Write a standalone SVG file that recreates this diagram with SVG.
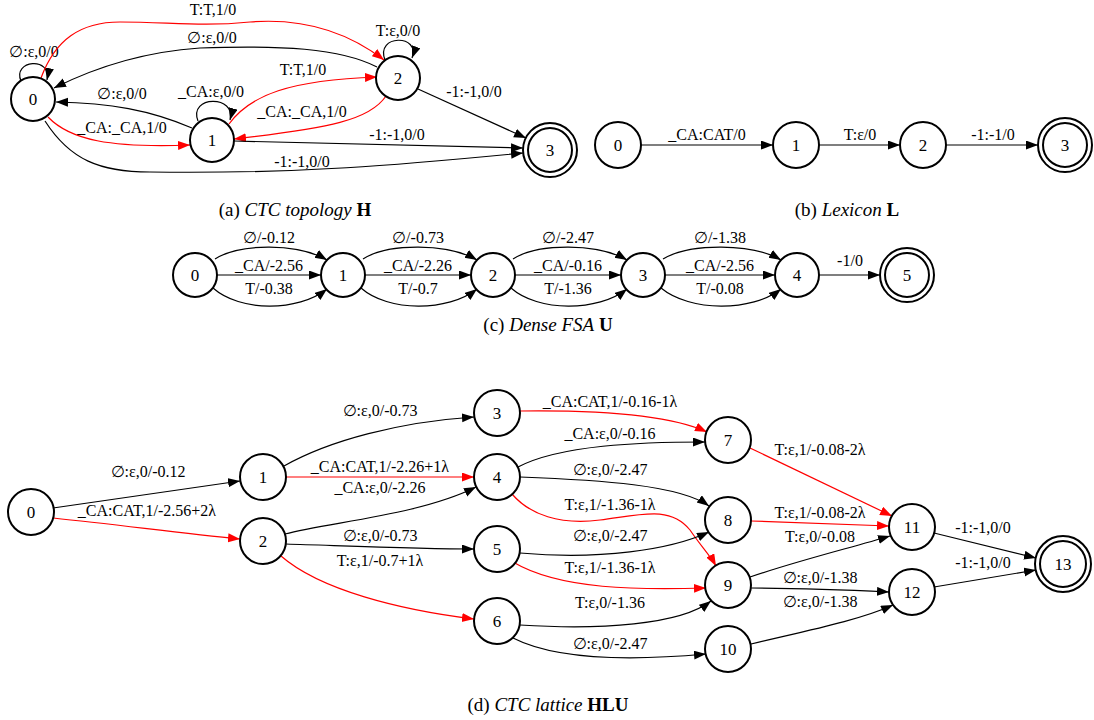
<svg xmlns="http://www.w3.org/2000/svg" width="1094" height="720" viewBox="0 0 1094 720">
<style>
text{font-family:"Liberation Serif","DejaVu Serif",serif;fill:#000}
.l{font-size:16px;text-anchor:middle}
.n{font-size:17px;text-anchor:middle;dominant-baseline:central}
.cap{font-size:19px;text-anchor:middle}
.i{font-style:italic}
.b{font-weight:bold}
circle{fill:#fff;stroke:#000;stroke-width:2}
.e{fill:none;stroke:#000;stroke-width:1.2;marker-end:url(#ak)}
.r{fill:none;stroke:#f00;stroke-width:1.2;marker-end:url(#ar)}
</style>
<defs>
<marker id="ak" markerUnits="userSpaceOnUse" markerWidth="13" markerHeight="10" refX="12" refY="4.5" orient="auto"><path d="M0,0 L12,4.5 L0,9 z" fill="#000"/></marker>
<marker id="ar" markerUnits="userSpaceOnUse" markerWidth="13" markerHeight="10" refX="12" refY="4.5" orient="auto"><path d="M0,0 L12,4.5 L0,9 z" fill="#f00"/></marker>
</defs>
<rect width="1094" height="720" fill="#fff"/>

<!-- Panel (a) -->
<g id="edges-a">
<path class="e" d="M 21,81 C 12,60 52,56 47,80"/>
<text class="l" x="34" y="57">∅:ε,0/0</text>
<path class="r" d="M 41,78 C 55,40 80,22 120,22 C 170,22 200,27 250,22 C 300,18 345,30 384,60"/>
<text class="l" x="213" y="15">T:T,1/0</text>
<path class="e" d="M 377,67 C 340,48 280,45 200,48 C 140,52 90,70 54,88"/>
<text class="l" x="212" y="43">∅:ε,0/0</text>
<path class="e" d="M 385,60 C 375,34 421,34 412,58"/>
<text class="l" x="398" y="36">T:ε,0/0</text>
<path class="r" d="M 229,124 C 250,95 290,80 377,77"/>
<text class="l" x="303" y="75">T:T,1/0</text>
<path class="r" d="M 386,96 C 370,120 330,128 234,139"/>
<text class="l" x="302" y="117">_CA:_CA,1/0</text>
<path class="e" d="M 198,121 C 188,95 237,95 230,120"/>
<text class="l" x="211" y="97">_CA:ε,0/0</text>
<path class="e" d="M 192,128 C 150,110 110,103 56,102"/>
<text class="l" x="122" y="99">∅:ε,0/0</text>
<path class="r" d="M 48,117 C 70,140 110,148 190,145"/>
<text class="l" x="122" y="133">_CA:_CA,1/0</text>
<path class="e" d="M 45,121 C 70,160 100,172 150,172 C 300,174 400,165 523,153"/>
<text class="l" x="302" y="167">-1:-1,0/0</text>
<path class="e" d="M 234,141 L 523,148"/>
<text class="l" x="397" y="140">-1:-1,0/0</text>
<path class="e" d="M 418,89 L 526,138"/>
<text class="l" x="474" y="97">-1:-1,0/0</text>
</g>
<g id="a0"><circle cx="33" cy="99" r="22"/><text class="n" x="33" y="99">0</text></g>
<g id="a1"><circle cx="212" cy="140" r="22"/><text class="n" x="212" y="140">1</text></g>
<g id="a2"><circle cx="398" cy="78" r="22"/><text class="n" x="398" y="78">2</text></g>
<g id="a3"><circle cx="550" cy="150" r="27"/><circle cx="550" cy="150" r="22"/><text class="n" x="550" y="150">3</text></g>
<text class="cap" x="295" y="216">(a) <tspan class="i">CTC topology</tspan> <tspan class="b">H</tspan></text>

<!-- Panel (b) -->
<g id="edges-b">
<path class="e" d="M 641,145 L 773,145"/>
<text class="l" x="707" y="140">_CA:CAT/0</text>
<path class="e" d="M 819,145 L 900,145"/>
<text class="l" x="860" y="140">T:ε/0</text>
<path class="e" d="M 946,145 L 1038,145"/>
<text class="l" x="993" y="140">-1:-1/0</text>
</g>
<g id="b0"><circle cx="618" cy="145" r="23"/><text class="n" x="618" y="145">0</text></g>
<g id="b1"><circle cx="796" cy="145" r="23"/><text class="n" x="796" y="145">1</text></g>
<g id="b2"><circle cx="923" cy="145" r="23"/><text class="n" x="923" y="145">2</text></g>
<g id="b3"><circle cx="1065" cy="145" r="27"/><circle cx="1065" cy="145" r="22"/><text class="n" x="1065" y="145">3</text></g>
<text class="cap" x="847" y="216">(b) <tspan class="i">Lexicon</tspan> <tspan class="b">L</tspan></text>

<!-- Panel (c) -->
<g id="edges-c">
<path class="e" d="M 215,259 C 240,243 298,243 327,260"/>
<path class="e" d="M 217,275 L 321,275"/>
<path class="e" d="M 213,288 C 240,312 298,312 327,289"/>
<text class="l" x="269" y="243">∅/-0.12</text>
<text class="l" x="269" y="271">_CA/-2.56</text>
<text class="l" x="269" y="294">T/-0.38</text>
<path class="e" d="M 363,259 C 388,243 448,243 477,260"/>
<path class="e" d="M 365,275 L 471,275"/>
<path class="e" d="M 361,288 C 388,312 448,312 477,289"/>
<text class="l" x="418" y="243">∅/-0.73</text>
<text class="l" x="418" y="271">_CA/-2.26</text>
<text class="l" x="418" y="294">T/-0.7</text>
<path class="e" d="M 513,259 C 538,243 598,243 627,260"/>
<path class="e" d="M 515,275 L 621,275"/>
<path class="e" d="M 511,288 C 538,312 598,312 627,289"/>
<text class="l" x="568" y="243">∅/-2.47</text>
<text class="l" x="568" y="271">_CA/-0.16</text>
<text class="l" x="568" y="294">T/-1.36</text>
<path class="e" d="M 663,259 C 690,243 752,243 781,260"/>
<path class="e" d="M 665,275 L 775,275"/>
<path class="e" d="M 661,288 C 690,312 752,312 781,289"/>
<text class="l" x="720" y="243">∅/-1.38</text>
<text class="l" x="720" y="271">_CA/-2.56</text>
<text class="l" x="720" y="294">T/-0.08</text>
<path class="e" d="M 819,275 L 880,275"/>
<text class="l" x="850" y="266">-1/0</text>
</g>
<g id="c0"><circle cx="195" cy="275" r="22"/><text class="n" x="195" y="275">0</text></g>
<g id="c1"><circle cx="343" cy="275" r="22"/><text class="n" x="343" y="275">1</text></g>
<g id="c2"><circle cx="493" cy="275" r="22"/><text class="n" x="493" y="275">2</text></g>
<g id="c3"><circle cx="643" cy="275" r="22"/><text class="n" x="643" y="275">3</text></g>
<g id="c4"><circle cx="797" cy="275" r="22"/><text class="n" x="797" y="275">4</text></g>
<g id="c5"><circle cx="907" cy="275" r="27"/><circle cx="907" cy="275" r="22"/><text class="n" x="907" y="275">5</text></g>
<text class="cap" x="548" y="331">(c) <tspan class="i">Dense FSA</tspan> <tspan class="b">U</tspan></text>

<!-- Panel (d) -->
<g id="edges-d">
<path class="e" d="M 53,508 L 240,481"/>
<text class="l" x="148" y="477">∅:ε,0/-0.12</text>
<path class="r" d="M 53,518 C 120,525 180,533 240,539"/>
<text class="l" x="147" y="516">_CA:CAT,1/-2.56+2λ</text>
<path class="e" d="M 284,466 C 330,440 400,422 474,417"/>
<text class="l" x="380" y="416">∅:ε,0/-0.73</text>
<path class="r" d="M 286,477 L 474,477"/>
<text class="l" x="380" y="472">_CA:CAT,1/-2.26+1λ</text>
<path class="e" d="M 285,534 C 330,522 420,515 476,487"/>
<text class="l" x="380" y="493">_CA:ε,0/-2.26</text>
<path class="e" d="M 286,544 C 350,546 420,549 474,549"/>
<text class="l" x="380" y="541">∅:ε,0/-0.73</text>
<text class="l" x="380" y="566">T:ε,1/-0.7+1λ</text>
<path class="r" d="M 281,556 C 320,590 400,610 474,619"/>
<path class="r" d="M 520,411 C 600,410 670,415 707,432"/>
<text class="l" x="610" y="407">_CA:CAT,1/-0.16-1λ</text>
<path class="e" d="M 518,467 C 560,445 640,442 705,442"/>
<text class="l" x="610" y="439">_CA:ε,0/-0.16</text>
<path class="e" d="M 520,477 C 600,480 680,485 709,506"/>
<text class="l" x="610" y="475">∅:ε,0/-2.47</text>
<path class="r" d="M 512,494 C 530,515 560,525 600,520 C 640,515 670,505 690,530 C 700,545 710,555 716,566"/>
<text class="l" x="610" y="510">T:ε,1/-1.36-1λ</text>
<path class="e" d="M 520,553 C 600,560 670,550 709,532"/>
<text class="l" x="610" y="541">∅:ε,0/-2.47</text>
<path class="r" d="M 513,562 C 560,590 640,590 706,588"/>
<text class="l" x="610" y="573">T:ε,1/-1.36-1λ</text>
<path class="e" d="M 520,625 C 600,630 680,625 711,601"/>
<text class="l" x="610" y="608">T:ε,0/-1.36</text>
<path class="e" d="M 513,638 C 560,662 640,660 706,654"/>
<text class="l" x="610" y="649">∅:ε,0/-2.47</text>
<path class="r" d="M 750,448 L 892,516"/>
<text class="l" x="820" y="455">T:ε,1/-0.08-2λ</text>
<path class="r" d="M 751,521 L 889,526"/>
<text class="l" x="820" y="518">T:ε,1/-0.08-2λ</text>
<path class="e" d="M 750,577 C 800,560 850,548 890,536"/>
<text class="l" x="820" y="542">T:ε,0/-0.08</text>
<path class="e" d="M 751,588 C 800,588 850,590 889,592"/>
<text class="l" x="820" y="583">∅:ε,0/-1.38</text>
<path class="e" d="M 751,644 C 810,630 860,620 893,605"/>
<text class="l" x="820" y="607">∅:ε,0/-1.38</text>
<path class="e" d="M 934,533 L 1036,558"/>
<text class="l" x="983" y="533">-1:-1,0/0</text>
<path class="e" d="M 934,587 L 1036,570"/>
<text class="l" x="983" y="568">-1:-1,0/0</text>
</g>
<g id="d0"><circle cx="31" cy="512" r="23"/><text class="n" x="31" y="512">0</text></g>
<g id="d1"><circle cx="263" cy="477" r="23"/><text class="n" x="263" y="477">1</text></g>
<g id="d2"><circle cx="263" cy="541" r="23"/><text class="n" x="263" y="541">2</text></g>
<g id="d3"><circle cx="497" cy="413" r="23"/><text class="n" x="497" y="413">3</text></g>
<g id="d4"><circle cx="497" cy="477" r="23"/><text class="n" x="497" y="477">4</text></g>
<g id="d5"><circle cx="497" cy="549" r="23"/><text class="n" x="497" y="549">5</text></g>
<g id="d6"><circle cx="497" cy="621" r="23"/><text class="n" x="497" y="621">6</text></g>
<g id="d7"><circle cx="728" cy="440" r="23"/><text class="n" x="728" y="440">7</text></g>
<g id="d8"><circle cx="728" cy="520" r="23"/><text class="n" x="728" y="520">8</text></g>
<g id="d9"><circle cx="728" cy="585" r="23"/><text class="n" x="728" y="585">9</text></g>
<g id="d10"><circle cx="728" cy="649" r="23"/><text class="n" x="728" y="649">10</text></g>
<g id="d11"><circle cx="912" cy="527" r="23"/><text class="n" x="912" y="527">11</text></g>
<g id="d12"><circle cx="912" cy="592" r="23"/><text class="n" x="912" y="592">12</text></g>
<g id="d13"><circle cx="1063" cy="564" r="28"/><circle cx="1063" cy="564" r="23"/><text class="n" x="1063" y="564">13</text></g>
<text class="cap" x="548" y="711">(d) <tspan class="i">CTC lattice</tspan> <tspan class="b">HLU</tspan></text>
</svg>
